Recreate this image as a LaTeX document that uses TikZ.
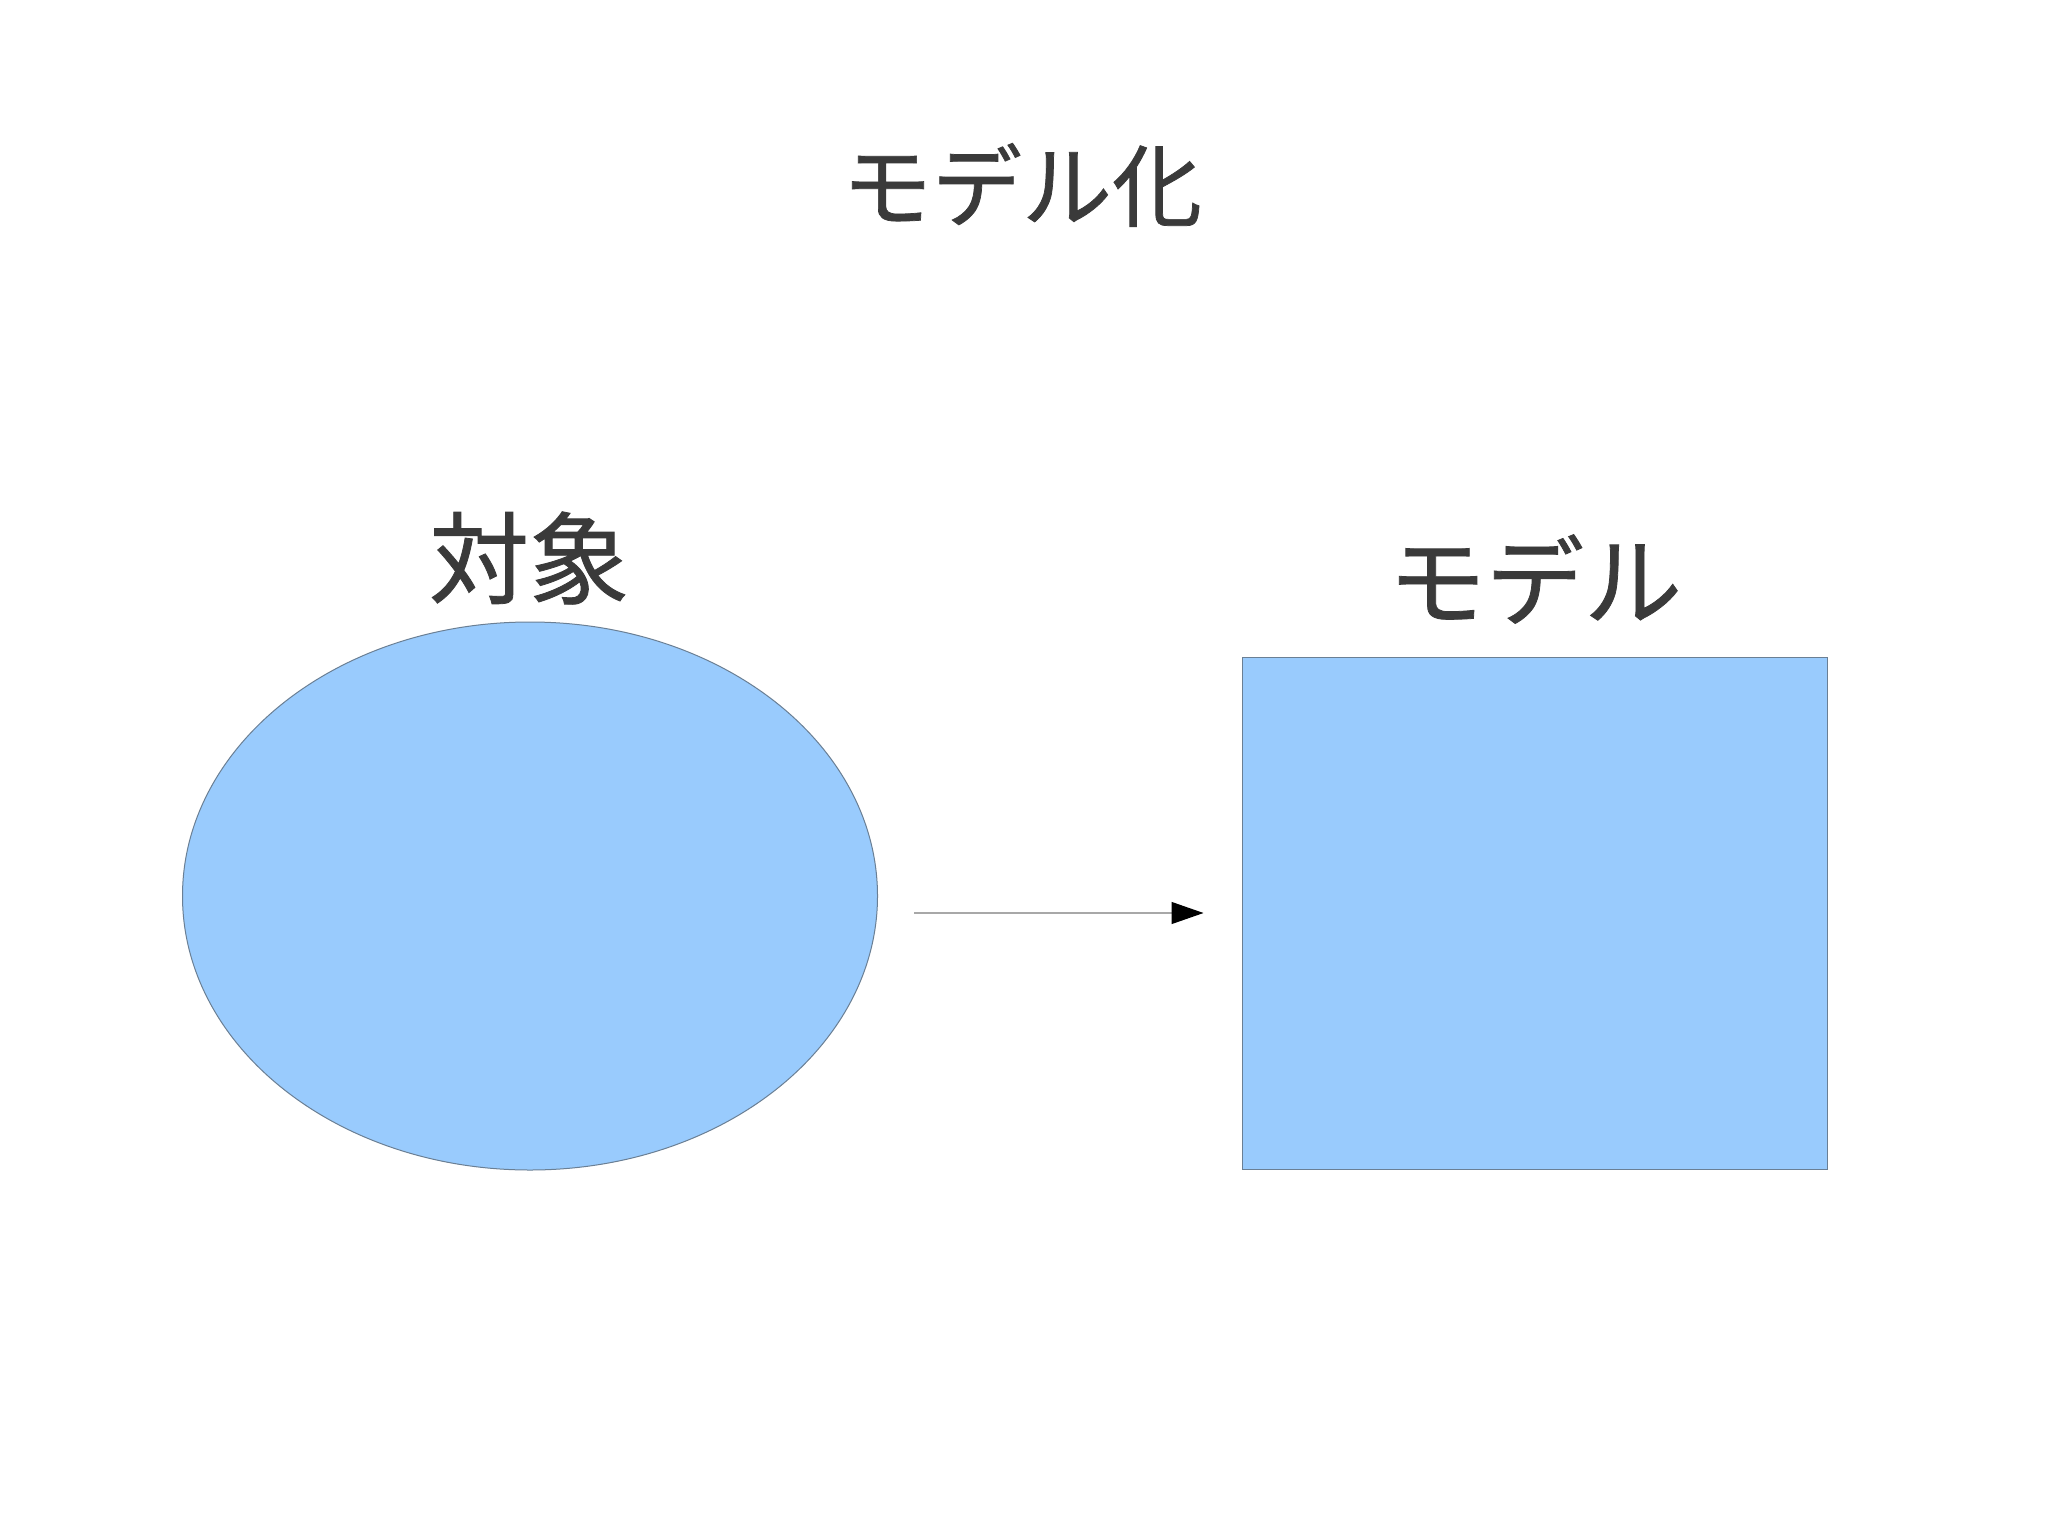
\documentclass[tikz,border=0pt]{standalone}
\usepackage{fontspec}
\newfontfamily\jp[FakeBold=0.8]{Noto Sans CJK JP}
\usetikzlibrary{shapes.geometric,arrows.meta}
\definecolor{shapefill}{HTML}{99CBFD}
\definecolor{shapeline}{HTML}{6A7F94}
\definecolor{txt}{HTML}{3A3A3A}
\definecolor{arrline}{HTML}{A8A8A8}
\tikzset{
  lbl/.style={inner sep=0pt, text=txt, font=\jp\fontsize{#1}{#1}\selectfont},
  shp/.style={fill=shapefill, draw=shapeline, line width=0.5pt, inner sep=0pt},
  conn/.style={draw=arrline, line width=0.6pt, -{Triangle[length=16pt,width=11pt,color=black]}}
}
\begin{document}
\begin{tikzpicture}[x=0.5pt,y=-0.5pt]
\useasboundingbox[fill=white] (0,0) rectangle (2048,1535);
\node[lbl=45pt] (title) at (1022,185) {モデル化};
\node[shp, ellipse, minimum width=347.5pt, minimum height=274pt] (obj) at (530,896) {};
\node[shp, rectangle, minimum width=292.5pt, minimum height=256pt] (model) at (1534.5,913) {};
\node[lbl=50pt] (objlbl) at (529,558) {対象};
\node[lbl=49pt] (modellbl) at (1535,579) {モデル};
\coordinate (a1) at ([xshift=18pt,yshift=-8.5pt]obj.east);
\coordinate (a2) at ([xshift=-19pt]model.west);
\draw[conn] (a1) -- (a2);
\end{tikzpicture}
\end{document}
